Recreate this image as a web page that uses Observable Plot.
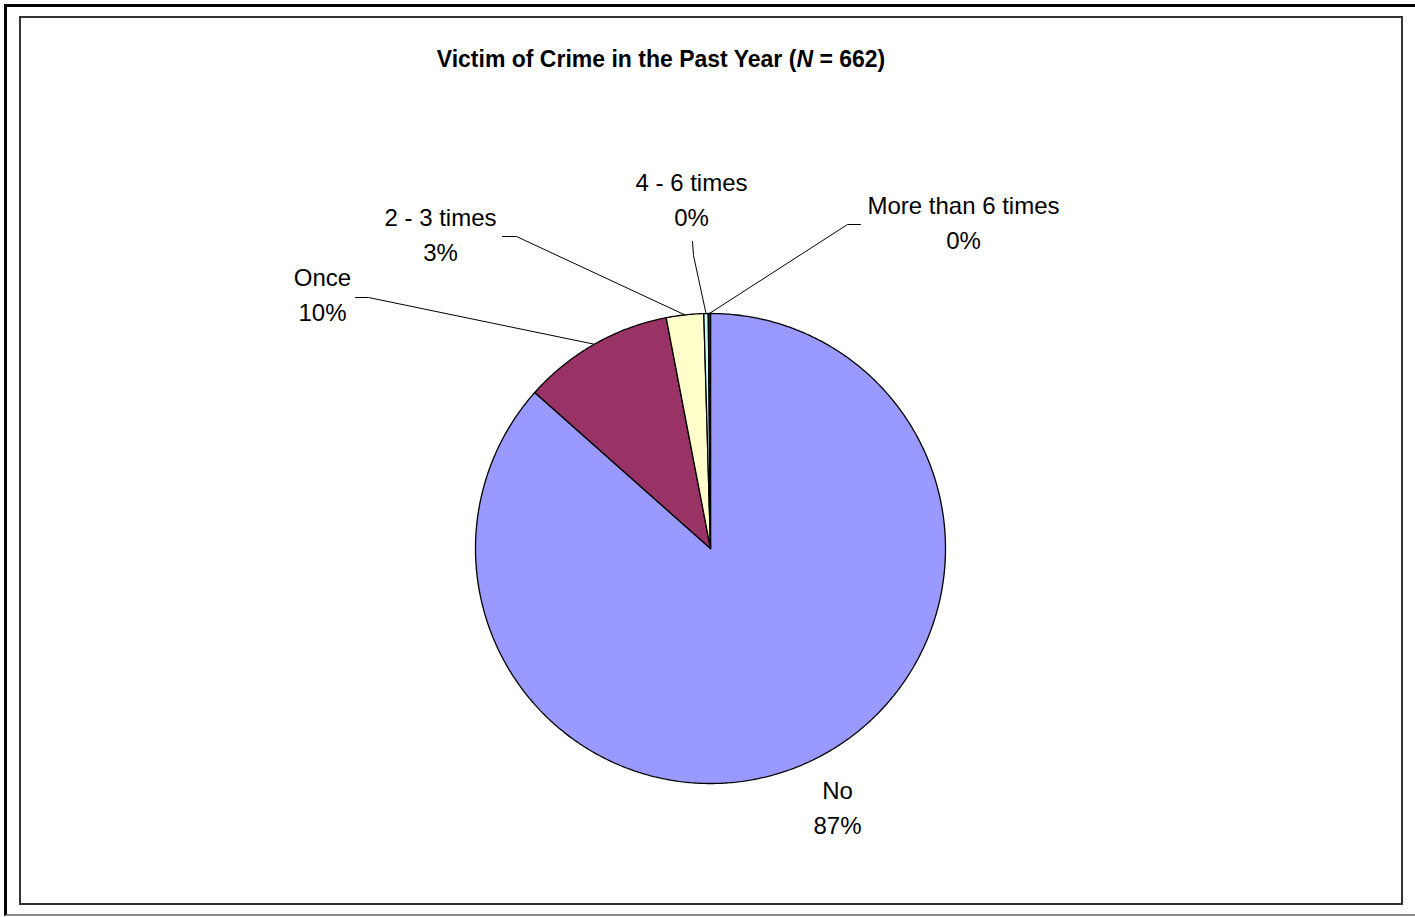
<!DOCTYPE html>
<html><head><meta charset="utf-8">
<script src="https://cdn.jsdelivr.net/npm/d3@7"></script>
<script src="https://cdn.jsdelivr.net/npm/@observablehq/plot@0.6"></script>
<style>
html,body{margin:0;padding:0;background:#fff;overflow:hidden;width:1415px;height:917px;}
#outer{position:absolute;left:4px;top:4px;right:0;height:912px;box-sizing:border-box;border-top:3px solid #000;border-left:3px solid #000;border-bottom:2px solid #8c8c8c;}
#inner{position:absolute;left:19px;top:16px;width:1384px;height:889px;box-sizing:border-box;border:2px solid #333;}
#chart{position:absolute;left:0;top:0;}
#title{position:absolute;left:0;width:1322px;top:48px;text-align:center;font:bold 23px "Liberation Sans",Arial,sans-serif;line-height:23px;color:#000;}
</style></head><body>
<div id="outer"></div>
<div id="inner"></div>
<div id="chart"></div>
<div id="title">Victim of Crime in the Past Year (<i>N</i> = 662)</div>
<script>
// ---- data ----
const categories = ["No", "Once", "2 - 3 times", "4 - 6 times", "More than 6 times"];
const counts = [573, 69, 17, 2, 1];
const N = 662;
const colors = ["#9999FF", "#993366", "#FFFFCC", "#CCFFFF", "#660066"];

// ---- layout (pixels) ----
const pie = {cx: 710, cy: 548, r: 235};
const labelAnchors = [[837, 833], [322, 320], [440, 260], [691, 225], [963, 248]]; // baseline of last line
const leaderElbows = [null, [[355, 297], [368, 297]], [[502, 236], [516, 236]], [[692, 241], [693, 255]], [[860, 224], [847, 224]]];

const total = d3.sum(counts);
const pt = (a, rr = pie.r) => [pie.cx + rr * Math.sin(a), pie.cy - rr * Math.cos(a)];

const sliceRows = [];
const labelRows = [];
const leaderRows = [];
let cum = 0;
categories.forEach((cat, i) => {
  const a0 = cum / total * 2 * Math.PI;
  cum += counts[i];
  const a1 = cum / total * 2 * Math.PI;
  const steps = Math.max(2, Math.ceil((a1 - a0) / (Math.PI / 360)));
  sliceRows.push({cat, x: pie.cx, y: pie.cy});
  for (let s = 0; s <= steps; s++) {
    const [x, y] = pt(a0 + (a1 - a0) * s / steps);
    sliceRows.push({cat, x, y});
  }
  sliceRows.push({cat, x: pie.cx, y: pie.cy});
  const pct = Math.round(counts[i] / N * 100);
  labelRows.push({cat, text: `${cat}\n${pct}%`, x: labelAnchors[i][0], y: labelAnchors[i][1]});
  if (leaderElbows[i]) {
    const [ex, ey] = pt((a0 + a1) / 2);
    leaderElbows[i].forEach(([x, y]) => leaderRows.push({cat, x, y}));
    leaderRows.push({cat, x: ex, y: ey});
  }
});

const chart = Plot.plot({
  width: 1415,
  height: 917,
  margin: 0,
  style: {background: "transparent", overflow: "visible"},
  x: {domain: [0, 1415], range: [0, 1415], axis: null},
  y: {domain: [0, 917], range: [0, 917], axis: null},
  color: {domain: categories, range: colors},
  marks: [
    Plot.line(sliceRows, {x: "x", y: "y", z: "cat", fill: "cat", stroke: "black", strokeWidth: 1.3, strokeLinejoin: "miter", curve: "linear"}),
    Plot.line(leaderRows, {x: "x", y: "y", z: "cat", stroke: "black", strokeWidth: 1}),
    Plot.text(labelRows, {x: "x", y: "y", text: "text", lineAnchor: "bottom", lineHeight: 35 / 24, fontSize: 24, fontFamily: "Liberation Sans, Arial, sans-serif", fill: "black", textAnchor: "middle"})
  ]
});
document.getElementById("chart").appendChild(chart);
</script>
</body></html>
